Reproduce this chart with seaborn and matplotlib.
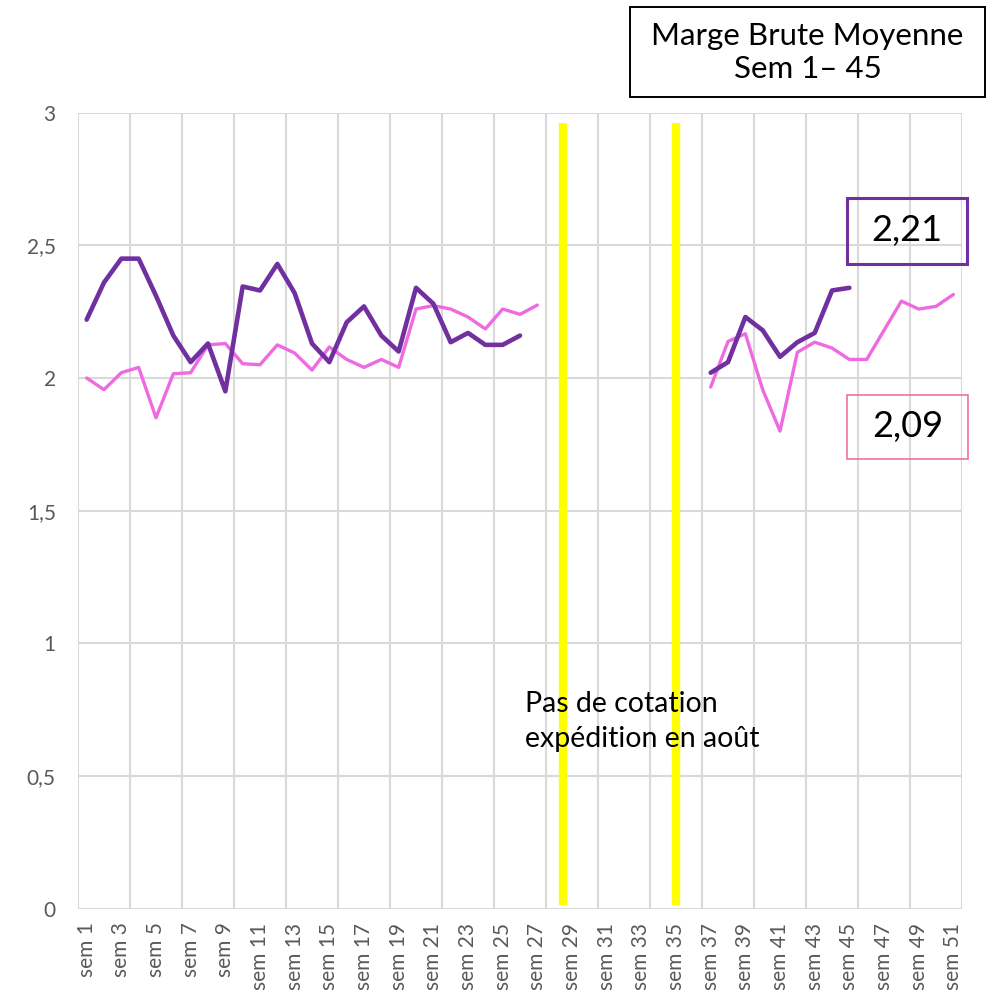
import numpy as np
import pandas as pd
import seaborn as sns
import matplotlib.pyplot as plt
from matplotlib.patches import Rectangle

# semaines 1 a 51 (axe par categorie)
weeks = [f"sem {i}" for i in range(1, 52)]

nan = np.nan
# marge brute - serie violette (annee en cours)
purple_vals = [2.22, 2.36, 2.45, 2.45, 2.31, 2.16, 2.06, 2.13, 1.95, 2.345,
               2.33, 2.43, 2.32, 2.13, 2.06, 2.21, 2.27, 2.16, 2.10, 2.34,
               2.28, 2.135, 2.17, 2.125, 2.125, 2.16, nan, nan, nan, nan,
               nan, nan, nan, nan, nan, nan, 2.02, 2.06, 2.23, 2.18,
               2.08, 2.135, 2.17, 2.33, 2.34, nan, nan, nan, nan, nan, nan]
# marge brute - serie rose (annee precedente)
pink_vals = [2.0, 1.956, 2.02, 2.04, 1.85, 2.016, 2.02, 2.125, 2.13, 2.054,
             2.05, 2.125, 2.094, 2.03, 2.117, 2.07, 2.04, 2.07, 2.04, 2.26,
             2.273, 2.26, 2.23, 2.185, 2.26, 2.24, 2.275, nan, nan, nan,
             nan, nan, nan, nan, nan, nan, 1.966, 2.138, 2.167, 1.956,
             1.80, 2.097, 2.135, 2.113, 2.07, 2.07, 2.18, 2.29, 2.26, 2.27, 2.315]

avg_purple = "2,21"
avg_pink = "2,09"
title = "Marge Brute Moyenne\nSem 1\u2013 45"
note = "Pas de cotation\nexpédition en août"
# semaines sans cotation (positions des barres jaunes, en index de categorie)
no_quote = [27.5, 34.0]

PURPLE = "#7030A0"
PINK = "#EF6AE0"
GRID = "#D9D9D9"
TICK = "#595959"

sns.set_style("white")
plt.rcParams['font.family'] = ['Lato', 'DejaVu Sans']

df = pd.DataFrame({"week": weeks, "idx": np.arange(len(weeks)),
                   "purple": purple_vals, "pink": pink_vals})

fig = plt.figure(figsize=(9.86, 10.02), dpi=100)
ax = fig.add_axes([0.0791, 0.0932, 0.8966, 0.7943])

def draw_series(col, color, lw):
    # split on NaN so that gaps stay empty
    seg = df[col].isna().cumsum()
    for _, part in df[df[col].notna()].groupby(seg[df[col].notna()]):
        sns.lineplot(data=part, x="idx", y=col, color=color, linewidth=lw,
                     ax=ax, legend=False)

draw_series("pink", PINK, 2.4)
draw_series("purple", PURPLE, 3.3)

ax.vlines(no_quote, 0.015, 2.96, color="#FFFF00", linewidth=6, zorder=1)

ax.set_xlim(-0.5, len(weeks) - 0.5)
ax.set_ylim(0, 3)
ax.set_yticks(np.arange(0, 3.01, 0.5))
ax.set_yticklabels(["0", "0,5", "1", "1,5", "2", "2,5", "3"])
ax.set_xticks(df["idx"][::2])
ax.set_xticklabels(df["week"][::2], rotation=90)
ax.set_xticks(np.arange(-0.5, len(weeks), 3), minor=True)
ax.tick_params(axis="both", which="both", length=0, colors=TICK, labelsize=15)
ax.tick_params(axis="y", pad=16)
ax.tick_params(axis="x", pad=10)
ax.grid(axis="y", which="major", color=GRID, linewidth=1.5)
ax.grid(axis="x", which="minor", color=GRID, linewidth=1.5)
ax.grid(axis="x", which="major", visible=False)
for s in ax.spines.values():
    s.set_visible(False)
ax.set_xlabel("")
ax.set_ylabel("")

ax.text(25.3, 0.59, note, fontsize=20.5, color="black", ha="left", va="bottom",
        linespacing=1.42)

# encadres
fig.patches.append(Rectangle((0.639, 0.9032), 0.36, 0.0898, transform=fig.transFigure,
                             fill=False, edgecolor="black", linewidth=1.4))
fig.text(0.819, 0.9476, title, ha="center", va="center", fontsize=22.5,
         linespacing=1.2, color="black")
fig.patches.append(Rectangle((0.859, 0.7365), 0.1217, 0.0659, transform=fig.transFigure,
                             fill=False, edgecolor=PURPLE, linewidth=2.2))
fig.text(0.9198, 0.7695, avg_purple, ha="center", va="center", fontsize=26, color="black")
fig.patches.append(Rectangle((0.859, 0.5419), 0.1227, 0.0639, transform=fig.transFigure,
                             fill=False, edgecolor="#F0649A", linewidth=1.1))
fig.text(0.9203, 0.5739, avg_pink, ha="center", va="center", fontsize=26, color="black")

fig.savefig("out.png", dpi=100)
